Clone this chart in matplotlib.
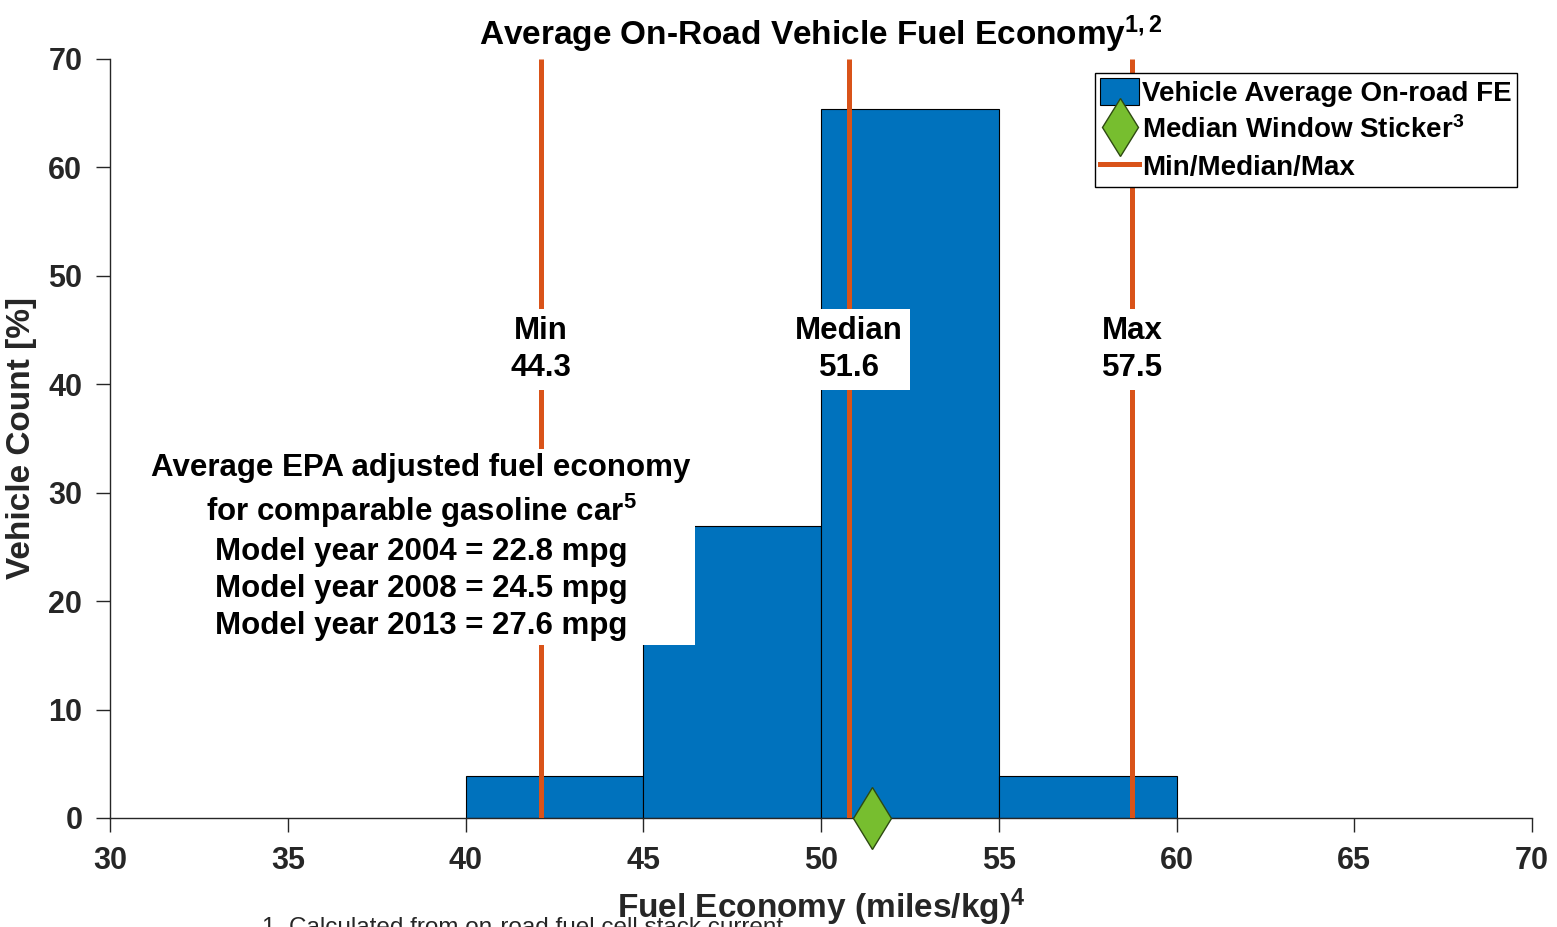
import matplotlib
matplotlib.use('Agg')
import matplotlib.pyplot as plt
from matplotlib.patches import Patch
from matplotlib.lines import Line2D

# ---------------------------------------------------------------------------
# Data (percent of 26 vehicles per 5 mi/kg bin)
# ---------------------------------------------------------------------------
bin_left = [40, 45, 50, 55]
bin_width = 5
vehicle_pct = [3.85, 26.9, 65.4, 3.85]

stat_names = ['Min', 'Median', 'Max']
stat_labels = ['44.3', '51.6', '57.5']
stat_x = [42.12, 50.79, 58.75]          # where the orange lines sit
sticker_median = 51.43

epa_lines = [
    'Average EPA adjusted fuel economy',
    r'for comparable gasoline car$^{5}$',
    'Model year 2004 = 22.8 mpg',
    'Model year 2008 = 24.5 mpg',
    'Model year 2013 = 27.6 mpg',
]

BLUE = '#0072BD'
ORANGE = '#D95319'
GREEN = '#77BE2F'
TXT = '#262626'

plt.rcParams['font.family'] = ['Liberation Sans', 'DejaVu Sans']
plt.rcParams['font.weight'] = 'bold'
plt.rcParams['mathtext.fontset'] = 'custom'
plt.rcParams['mathtext.rm'] = 'Liberation Sans:bold'
plt.rcParams['mathtext.it'] = 'Liberation Sans:bold'
plt.rcParams['mathtext.bf'] = 'Liberation Sans:bold'

fig = plt.figure(figsize=(15.57, 9.27), dpi=100)
ax = fig.add_axes([0.0707, 0.1176, 0.9133, 0.8188])

ax.bar(bin_left, vehicle_pct, width=bin_width, align='edge',
       color=BLUE, edgecolor='black', linewidth=0.8, zorder=2)

for xv in stat_x:
    ax.plot([xv, xv], [0, 70], color=ORANGE, lw=3.6, zorder=3,
            solid_capstyle='butt')

for xv, name, val in zip(stat_x, stat_names, stat_labels):
    ax.text(xv, 43.2, f'{name}\n{val}', ha='center', va='center',
            fontsize=22.5, fontweight='bold', color='black',
            linespacing=1.3, zorder=5,
            bbox=dict(facecolor='white', edgecolor='none', pad=5))

ax.text(38.75, 25.0, '\n'.join(epa_lines), ha='center', va='center',
        fontsize=22.5, fontweight='bold', color='black', linespacing=1.3,
        zorder=5, bbox=dict(facecolor='white', edgecolor='none', pad=3))

ax.plot([sticker_median], [0], marker='d', markersize=32,
        markerfacecolor=GREEN, markeredgecolor='#2E4A12', linestyle='none',
        zorder=6, clip_on=False)

ax.set_xlim(30, 70)
ax.set_ylim(0, 70)
ax.set_xticks(range(30, 71, 5))
ax.set_yticks(range(0, 71, 10))
for s in ['top', 'right']:
    ax.spines[s].set_visible(False)
for s in ['left', 'bottom']:
    ax.spines[s].set_color(TXT)
    ax.spines[s].set_linewidth(1.0)
ax.tick_params(direction='out', length=10, width=1.0, colors=TXT,
               labelsize=22, pad=10)
for lbl in ax.get_xticklabels() + ax.get_yticklabels():
    lbl.set_fontweight('bold')

ax.set_ylabel('Vehicle Count [%]', fontsize=24, fontweight='bold',
              color=TXT, labelpad=8)
ax.set_xlabel(r'Fuel Economy (miles/kg)$^{4}$', fontsize=24,
              fontweight='bold', color=TXT, labelpad=8)
ax.set_title(r'Average On-Road Vehicle Fuel Economy$^{1,2}$', fontsize=24,
             fontweight='bold', color='black', pad=10)

handles = [
    Patch(facecolor=BLUE, edgecolor='black', linewidth=0.8),
    Line2D([], [], marker='d', markersize=30, markerfacecolor=GREEN,
           markeredgecolor='#2E4A12', linestyle='none'),
    Line2D([], [], color=ORANGE, lw=3.6),
]
labels = ['Vehicle Average On-road FE', r'Median Window Sticker$^{3}$',
          'Min/Median/Max']
leg = ax.legend(handles, labels, loc='upper right',
                bbox_to_anchor=(0.9895, 0.982), fontsize=20, frameon=True,
                fancybox=False, edgecolor='black', framealpha=1,
                handlelength=1.4, handleheight=1.1, handletextpad=0.1,
                borderpad=0.2, labelspacing=0.3, borderaxespad=0)
leg.get_frame().set_linewidth(1.0)
for t in leg.get_texts():
    t.set_fontweight('bold')

fig.text(0.168, 0.011, '1. Calculated from on-road fuel cell stack current',
         fontsize=17.5, fontweight='normal', color=TXT, va='top', ha='left')

fig.savefig('out.png', dpi=100)
